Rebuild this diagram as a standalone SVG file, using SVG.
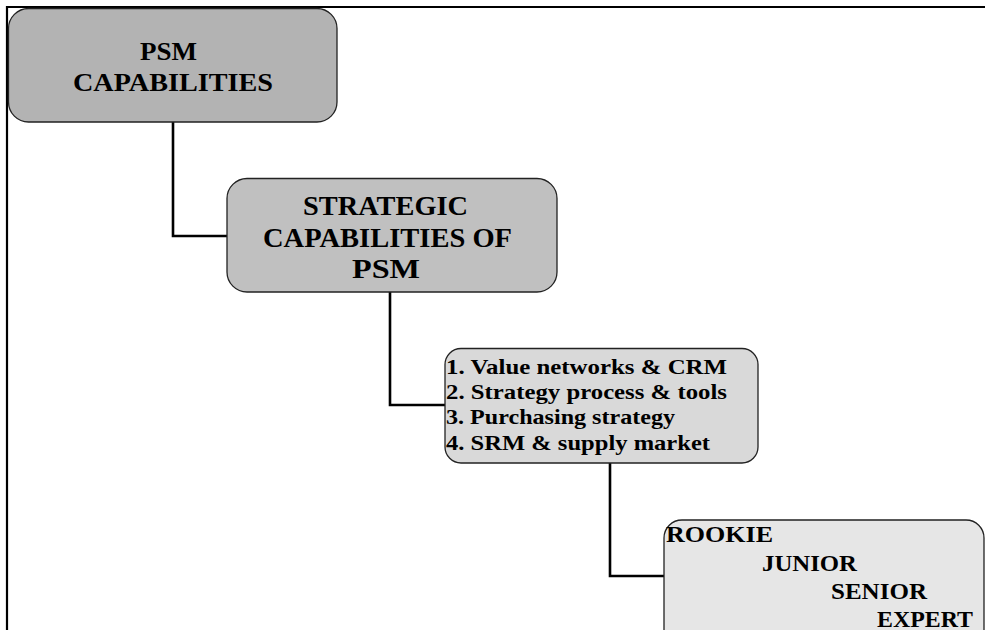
<svg xmlns="http://www.w3.org/2000/svg" width="985" height="630" viewBox="0 0 985 630">
  <style>
    .box { stroke: #222; stroke-width: 1.3; }
    .t { font-family: "Liberation Serif", "Times New Roman", serif; font-weight: bold; fill: #000; }
    .wire { fill: none; stroke: #000; stroke-width: 2.6; stroke-linejoin: miter; }
    .frame { fill: none; stroke: #000; stroke-width: 2.2; }
  </style>

  <rect x="0" y="0" width="985" height="630" fill="#fff"/>

  <!-- page frame (top and left rules) -->
  <path class="frame" d="M7 630 V7 H985"/>

  <!-- connectors -->
  <g id="connectors">
    <path class="wire" d="M173 122 V236 H227"/>
    <path class="wire" d="M390 292 V405 H445"/>
    <path class="wire" d="M610 463 V576 H664"/>
  </g>

  <g id="psm-capabilities">
    <rect class="box" x="8.5" y="8.5" width="328.5" height="113.5" rx="20" fill="#b3b3b3"/>
    <text class="t" x="140" y="60" font-size="26" textLength="57" lengthAdjust="spacingAndGlyphs">PSM</text>
    <text class="t" x="73" y="91" font-size="26" textLength="200" lengthAdjust="spacingAndGlyphs">CAPABILITIES</text>
  </g>

  <g id="strategic-capabilities">
    <rect class="box" x="227" y="178.5" width="330" height="113.5" rx="20" fill="#c0c0c0"/>
    <text class="t" x="303" y="215" font-size="26.5" textLength="165" lengthAdjust="spacingAndGlyphs">STRATEGIC</text>
    <text class="t" x="263" y="247" font-size="26.5" textLength="249" lengthAdjust="spacingAndGlyphs">CAPABILITIES OF</text>
    <text class="t" x="352" y="278" font-size="26.5" textLength="68" lengthAdjust="spacingAndGlyphs">PSM</text>
  </g>

  <g id="capability-areas">
    <rect class="box" x="445" y="348.5" width="313" height="114.5" rx="16" fill="#d9d9d9"/>
    <text class="t" x="446" y="374" font-size="21" textLength="281" lengthAdjust="spacingAndGlyphs">1. Value networks &amp; CRM</text>
    <text class="t" x="446" y="399" font-size="21" textLength="281" lengthAdjust="spacingAndGlyphs">2. Strategy process &amp; tools</text>
    <text class="t" x="446" y="424" font-size="21" textLength="229" lengthAdjust="spacingAndGlyphs">3. Purchasing strategy</text>
    <text class="t" x="446" y="450" font-size="21" textLength="264" lengthAdjust="spacingAndGlyphs">4. SRM &amp; supply market</text>
  </g>

  <g id="competence-levels">
    <rect class="box" x="664" y="520" width="320" height="130" rx="18" fill="#e6e6e6"/>
    <text class="t" x="666" y="542" font-size="22.5" textLength="107" lengthAdjust="spacingAndGlyphs">ROOKIE</text>
    <text class="t" x="762" y="571" font-size="22.5" textLength="95" lengthAdjust="spacingAndGlyphs">JUNIOR</text>
    <text class="t" x="831" y="599" font-size="22.5" textLength="96" lengthAdjust="spacingAndGlyphs">SENIOR</text>
    <text class="t" x="877" y="627" font-size="22.5" textLength="96" lengthAdjust="spacingAndGlyphs">EXPERT</text>
  </g>
</svg>
